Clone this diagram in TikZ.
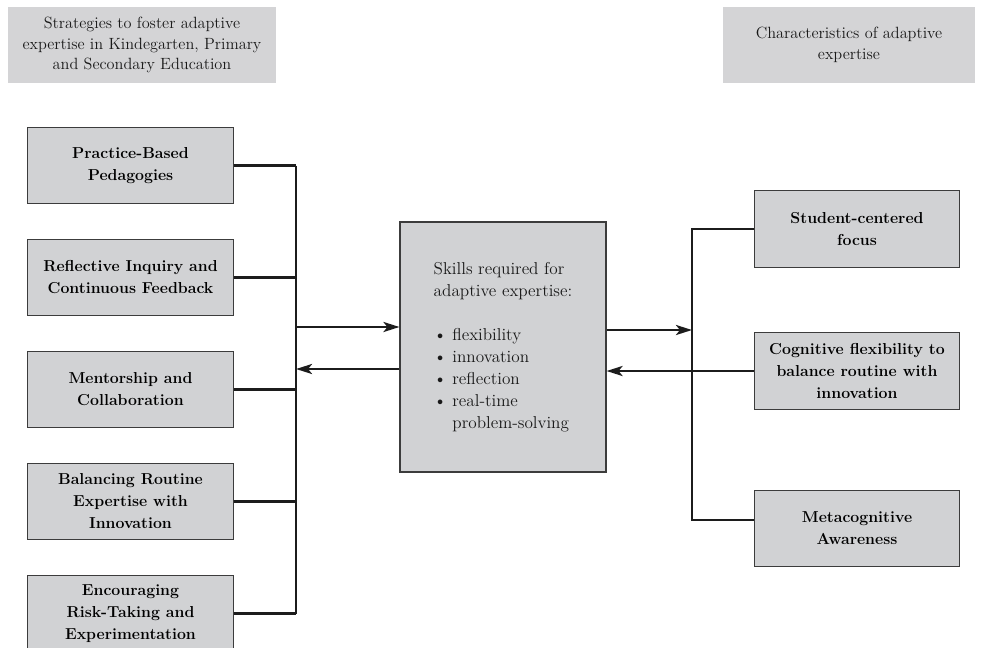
\documentclass[tikz,border=0pt]{standalone}
\usepackage{tikz}
\usetikzlibrary{arrows.meta,positioning}
\definecolor{boxgray}{RGB}{209,210,212}
\definecolor{headgray}{RGB}{212,212,214}
\definecolor{edgegray}{RGB}{60,60,60}
\definecolor{linegray}{RGB}{28,28,28}

\begin{document}
\begin{tikzpicture}[
        x=0.75pt, y=-0.75pt,
        >={Stealth[length=12pt,width=7.5pt,inset=3pt]},
        node distance=84pt,
        header/.style={fill=headgray, inner sep=0pt, minimum height=57pt,
            align=center, text=black!90, font=\fontsize{12.2}{15.4}\selectfont},
        strat/.style={draw=edgegray, fill=boxgray, line width=0.8pt, inner sep=0pt,
            minimum width=154pt, minimum height=57.5pt, align=center,
            text=black, font=\fontsize{11.9}{16.5}\selectfont\bfseries},
        skills/.style={draw=edgegray, fill=boxgray, line width=0.8pt, inner sep=0pt,
            minimum width=154.5pt, minimum height=187.5pt, align=left,
            text=black!90, font=\fontsize{12.9}{16.5}\selectfont},
        link/.style={draw=linegray, line width=2pt}
        ]
        \useasboundingbox (0,0) rectangle (981,647);

        % headings
        \node[header, minimum width=201pt] (hleft) at (142,45)
            {Strategies to foster adaptive\\expertise in Kindegarten, Primary\\and Secondary Education};
        \node[header, minimum width=189pt] (hright) at (849,45)
            {Characteristics of adaptive\\expertise};

        % strategies
        \node[strat] (s1) at (130.5,165.5) {Practice-Based\\Pedagogies};
        \node[strat] (s2) [below of=s1] {Reflective Inquiry and\\Continuous Feedback};
        \node[strat] (s3) [below of=s2] {Mentorship and\\Collaboration};
        \node[strat] (s4) [below of=s3] {Balancing Routine\\Expertise with\\Innovation};
        \node[strat] (s5) [below of=s4] {Encouraging\\Risk-Taking and\\Experimentation};

        % skills
        \node[skills] (skills) at (503,347)
            {Skills required for\\adaptive expertise:\\[16.5pt]
             \textbullet\ flexibility\\
             \textbullet\ innovation\\
             \textbullet\ reflection\\
             \textbullet\ real-time\\
             \hphantom{\textbullet\ }problem-solving};

        % characteristics
        \node[strat] (c1) at (857,229) {Student-centered\\focus};
        \node[strat] (c2) at (857,371) {Cognitive flexibility to\\balance routine with\\innovation};
        \node[strat] (c3) at (857,528.5) {Metacognitive\\Awareness};

        \coordinate (lbus) at (296,347);
        \coordinate (lout) at (296,327);
        \coordinate (lin) at (296,369);
        \coordinate (rbus) at (692,347);
        \coordinate (rout) at (692,330);
        \coordinate (c3in) at ([yshift=6.4pt]c3.west);

        % left side
        \foreach \i in {1,...,5}
            \draw[link] (s\i.east) -- (s\i.east -| lbus);
        \draw[link] (lbus |- s1.east) -- (lbus |- s5.east);
        \draw[link,->] (lout) -- (lout -| skills.west);
        \draw[link,->] (lin -| skills.west) -- (lin);

        % right side
        \draw[link] (c1.west) -- (c1.west -| rbus) -- (rbus |- c3in) -- (c3in);
        \draw[link,->] (rout -| skills.east) -- (rout);
        \draw[link,->] (c2.west) -- (c2.west -| skills.east);
\end{tikzpicture}
\end{document}
